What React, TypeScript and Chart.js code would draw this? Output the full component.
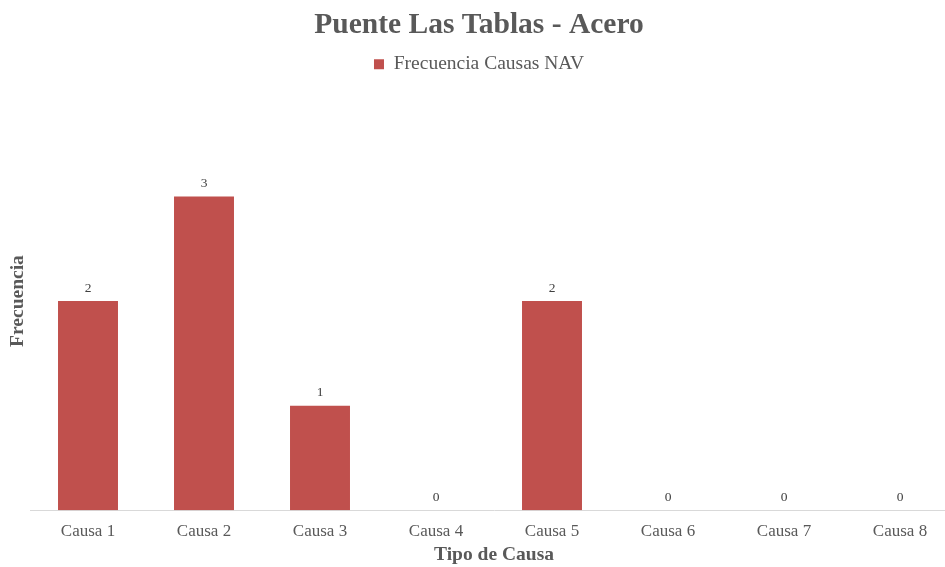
import React, { useEffect, useRef } from "react";
import { Chart, registerables } from "chart.js";

Chart.register(...registerables);

const categories = ["Causa 1", "Causa 2", "Causa 3", "Causa 4", "Causa 5", "Causa 6", "Causa 7", "Causa 8"];
const seriesName = "Frecuencia Causas NAV";
const values = [2, 3, 1, 0, 2, 0, 0, 0];
const chartTitle = "Puente Las Tablas - Acero";
const xTitle = "Tipo de Causa";
const yTitle = "Frecuencia";

const FONT = "'Liberation Serif', 'Times New Roman', serif";
const GRAY = "#595959";
const RED = "#C0504D";

const valueLabels = {
  id: "valueLabels",
  afterDatasetsDraw(chart: any) {
    const ctx = chart.ctx;
    const meta = chart.getDatasetMeta(0);
    ctx.save();
    ctx.font = `13.5px ${FONT}`;
    ctx.fillStyle = "#404040";
    ctx.textAlign = "center";
    ctx.textBaseline = "middle";
    meta.data.forEach((bar: any, i: number) => {
      ctx.fillText(String(values[i]), bar.x, bar.y - 13);
    });
    ctx.restore();
  },
};

const legendSpace = {
  id: "legendSpace",
  beforeInit(chart: any) {
    const lg = chart.legend;
    if (!lg) return;
    const orig = lg.fit;
    lg.fit = function () {
      orig.call(this);
      this.height += 8;
    };
  },
};

export default function App() {
  const ref = useRef<HTMLCanvasElement>(null);
  useEffect(() => {
    document.documentElement.style.overflow = "hidden";
    document.body.style.margin = "0";
    document.body.style.overflow = "hidden";
    const chart = new Chart(ref.current!, {
      type: "bar",
      data: {
        labels: categories,
        datasets: [
          {
            label: seriesName,
            data: values,
            backgroundColor: RED,
            borderWidth: 0,
            barPercentage: 0.517,
            categoryPercentage: 1,
          },
        ],
      },
      options: {
        animation: false,
        responsive: false,
        maintainAspectRatio: false,
        layout: { padding: { left: 0, right: 4, top: 0, bottom: 0 } },
        plugins: {
          title: {
            display: true,
            text: chartTitle,
            color: GRAY,
            font: { family: FONT, size: 29.5, weight: "bold" },
            padding: { top: 8, bottom: 5 },
          },
          legend: {
            display: true,
            labels: {
              color: GRAY,
              font: { family: FONT, size: 19.5 },
              boxWidth: 10,
              boxHeight: 10,
              padding: 6,
            },
          },
          tooltip: { enabled: false },
        },
        scales: {
          x: {
            grid: { display: false, drawTicks: false },
            border: { display: true, color: "#D9D9D9", width: 1 },
            ticks: { color: GRAY, font: { family: FONT, size: 17 }, padding: 11 },
            title: {
              display: true,
              text: xTitle,
              color: GRAY,
              font: { family: FONT, size: 19.5, weight: "bold" },
              padding: { top: -9, bottom: 0 },
            },
          },
          y: {
            min: 0,
            max: 4,
            grid: { display: false, drawTicks: false },
            border: { display: false },
            ticks: { display: false },
            title: {
              display: true,
              text: yTitle,
              color: GRAY,
              font: { family: FONT, size: 19.5, weight: "bold" },
              padding: { top: 6.3, bottom: 0.3 },
            },
          },
        },
      },
      plugins: [valueLabels, legendSpace],
    });
    return () => chart.destroy();
  }, []);
  return (
    <div style={{ position: "absolute", left: 0, top: 0, width: 962, height: 567 }}>
      <canvas ref={ref} width={962} height={567} />
    </div>
  );
}
